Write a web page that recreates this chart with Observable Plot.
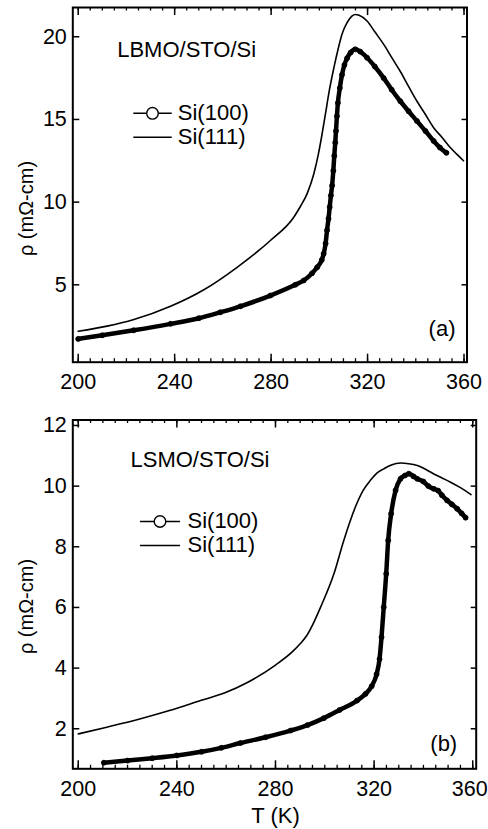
<!DOCTYPE html>
<html><head><meta charset="utf-8">
<script src="https://cdn.jsdelivr.net/npm/d3@7"></script>
<script src="https://cdn.jsdelivr.net/npm/@observablehq/plot@0.6"></script>
<style>
body{margin:0;background:#fff;}
#chart{position:relative;width:488px;height:829px;}
#chart svg{display:block;}
</style></head><body><div id="chart"></div>
<script>
// ---------- data ----------
const xMajor = [200, 240, 280, 320, 360];
const xMinor = d3.range(200, 361, 5);
const yTicksA = [5, 10, 15, 20];
const yTicksB = [2, 4, 6, 8, 10, 12];
const yLabel = "ρ (mΩ-cm)";
const xLabel = "T (K)";
const seriesNames = ["Si(100)", "Si(111)"];

// (a) LBMO/STO/Si
const aT100 = [200, 210, 223, 238.3, 250, 259, 267.3, 279.7, 290, 293.5, 297, 299.1, 301, 301.8, 302.6, 303.2, 303.8, 304.3, 304.8, 305.3, 305.8, 306.2, 306.6, 306.9, 307.3, 307.7, 308.5, 309.4, 310.4, 311.5, 313, 314.9, 317, 319.8, 323, 326.7, 330, 333.6, 337, 340.5, 344, 347.4, 350, 352.7];
const aR100 = [1.73, 1.95, 2.25, 2.64, 2.98, 3.34, 3.7, 4.35, 5.0, 5.26, 5.7, 6.06, 6.5, 6.88, 7.5, 8.3, 9.0, 9.7, 10.4, 11.0, 11.9, 12.8, 13.6, 14.3, 15.2, 16.0, 16.9, 17.7, 18.3, 18.7, 19.05, 19.24, 19.1, 18.73, 18.2, 17.5, 16.8, 16.1, 15.5, 14.9, 14.3, 13.7, 13.3, 12.98];
const aT111 = [200, 212, 223.1, 238.3, 252.1, 265.9, 279.7, 289.4, 292.2, 294.9, 297.7, 299.6, 301, 302.5, 304.2, 306, 307.7, 309.4, 311.5, 313.5, 314.9, 316.5, 319.8, 323, 326.7, 330, 333.6, 337, 340.5, 344, 347.4, 351, 354.3, 357, 359.8];
const aR111 = [2.19, 2.5, 2.9, 3.7, 4.7, 6.06, 7.68, 9.09, 9.75, 10.5, 11.7, 12.9, 14.0, 15.3, 16.8, 18.1, 19.2, 20.15, 20.85, 21.25, 21.35, 21.3, 20.95, 20.3, 19.54, 18.75, 17.9, 17.0, 16.1, 15.3, 14.5, 13.9, 13.3, 12.9, 12.5];

// (b) LSMO/STO/Si
const bT100 = [210.4, 220, 230, 240, 250, 258, 265.8, 276, 286.1, 293, 299.6, 306, 313.1, 316.5, 319, 321, 322.2, 323, 323.9, 324.9, 325.7, 326.9, 328.7, 330.7, 332.5, 334.1, 336, 337.5, 340, 342, 344.2, 346, 347.5, 349.6, 351.5, 353.7, 355.5, 357.1];
const bR100 = [0.88, 0.95, 1.03, 1.12, 1.24, 1.37, 1.53, 1.72, 1.94, 2.12, 2.35, 2.62, 2.93, 3.15, 3.4, 3.8, 4.3, 5.02, 6.01, 7.11, 8.21, 9.09, 9.86, 10.24, 10.35, 10.41, 10.32, 10.24, 10.15, 10.0, 9.91, 9.85, 9.7, 9.53, 9.4, 9.25, 9.1, 8.96];
const bT111 = [200, 212, 225.3, 237, 249.6, 260, 268, 280, 287, 290, 292.9, 295.5, 298.3, 303.7, 307.7, 312.4, 315.5, 318.5, 321, 323.9, 327, 330.7, 334, 337.5, 341, 344.2, 347.5, 351, 355, 359.3];
const bR111 = [1.83, 2.06, 2.33, 2.6, 2.93, 3.2, 3.5, 4.1, 4.55, 4.8, 5.1, 5.5, 6.01, 7.11, 8.21, 9.31, 9.85, 10.19, 10.42, 10.57, 10.7, 10.76, 10.74, 10.68, 10.55, 10.4, 10.27, 10.13, 9.95, 9.72];

const zip = (T, R) => T.map((t, i) => ({T: t, r: R[i]}));
const FONT = "'Liberation Sans', Arial, Helvetica, sans-serif";

function panel(c) {
  const W = 488;
  const fw = W - c.ml - c.mr, fh = c.height - c.mt - c.mb;
  const s100 = zip(c.T100, c.R100), s111 = zip(c.T111, c.R111);
  const txt = (s, o) => Plot.text([s], {lineAnchor: "middle", fontSize: 22, ...o});
  const marks = [
    Plot.ruleX(xMinor, {x: d => d, insetTop: fh - 3.5, strokeWidth: 1.3}),
    Plot.ruleX(xMinor, {x: d => d, insetBottom: fh - 3.5, strokeWidth: 1.3}),
    Plot.ruleX(xMajor, {x: d => d, insetTop: fh - 8, strokeWidth: 1.5}),
    Plot.ruleX(xMajor, {x: d => d, insetBottom: fh - 8, strokeWidth: 1.5}),
    Plot.ruleY(c.yTicks, {y: d => d, insetRight: fw - 7, strokeWidth: 1.5}),
    Plot.ruleY(c.yTicks, {y: d => d, insetLeft: fw - 5, strokeWidth: 1.5}),
    Plot.axisX(xMajor.slice(0, -1), {tickSize: 0, tickPadding: 11.5, label: null, fontSize: 21.5}),
    Plot.axisX(xMajor.slice(-1), {tickSize: 0, tickPadding: 11.5, label: null, fontSize: 21.5, dx: c.lastDx}),
    Plot.axisY(c.yTicks, {tickSize: 0, tickPadding: 6, label: null, fontSize: 21.5}),
    Plot.line(s111, {x: "T", y: "r", strokeWidth: 1.6, curve: "monotone-x"}),
    Plot.line(s100, {x: "T", y: "r", strokeWidth: 4.5, curve: "monotone-x"}),
    Plot.dot(s100, {x: "T", y: "r", r: 2.5, fill: "black", stroke: "black", strokeWidth: 0.8}),
    Plot.frame({strokeWidth: 2}),
    txt(c.title, {frameAnchor: "top-left", dx: c.titleX - c.ml, dy: c.titleY - c.mt, textAnchor: "start"}),
    txt(seriesNames[0], {frameAnchor: "top-left", dx: c.legTextX - c.ml, dy: c.legY1 - 1 - c.mt, textAnchor: "start"}),
    txt(seriesNames[1], {frameAnchor: "top-left", dx: c.legTextX - c.ml, dy: c.legY2 - 1 - c.mt, textAnchor: "start"}),
    txt(c.tag, {frameAnchor: "bottom-right", dx: c.tagDx, dy: c.tagDy, textAnchor: "end"}),
    txt(yLabel, {frameAnchor: "left", dx: 26 - c.ml, dy: c.ylabY - (c.mt + c.height - c.mb) / 2, rotate: -90, textAnchor: "middle", fontSize: 20})
  ];
  if (c.showXLabel) marks.push(txt(xLabel, {frameAnchor: "bottom", dx: c.xlabDx, dy: 47, textAnchor: "middle"}));
  const svg = Plot.plot({
    width: W, height: c.height,
    marginTop: c.mt, marginBottom: c.mb, marginLeft: c.ml, marginRight: c.mr,
    x: {domain: c.xDom}, y: {domain: c.yDom},
    style: `font-family: ${FONT}; font-size: 21px; color: black; background: white;`,
    marks
  });
  const root = d3.select(svg);
  // legend swatches
  const g = root.append("g").attr("stroke", "black");
  g.append("line").attr("x1", c.legX1).attr("x2", c.legX2).attr("y1", c.legY1).attr("y2", c.legY1).attr("stroke-width", 1.6);
  g.append("circle").attr("cx", (c.legX1 + c.legX2) / 2).attr("cy", c.legY1).attr("r", 5.8).attr("fill", "white").attr("stroke-width", 1.4);
  g.append("line").attr("x1", c.legX1).attr("x2", c.legX2).attr("y1", c.legY2).attr("y2", c.legY2).attr("stroke-width", 1.6);
  return svg;
}

const chart = document.getElementById("chart");
chart.append(panel({
  height: 400, mt: 7, mb: 38.3, ml: 72.3, mr: 21.5,
  xDom: [197.76, 361.24], yDom: [0.32, 21.77], yTicks: yTicksA,
  T100: aT100, R100: aR100, T111: aT111, R111: aR111,
  title: "LBMO/STO/Si", titleX: 116.7, titleY: 49.5,
  legX1: 133.3, legX2: 171.7, legTextX: 177.3, legY1: 113.3, legY2: 137.3,
  tag: "(a)", tagDx: -11.5, tagDy: -33, ylabY: 208, showXLabel: false, lastDx: 0
}));
chart.append(panel({
  height: 429, mt: 19.5, mb: 60.7, ml: 72.3, mr: 12.3,
  xDom: [197.8, 361.4], yDom: [0.68, 12.18], yTicks: yTicksB,
  T100: bT100, R100: bR100, T111: bT111, R111: bR111,
  title: "LSMO/STO/Si", titleX: 130, titleY: 59,
  legX1: 140, legX2: 180, legTextX: 187, legY1: 121.5, legY2: 145.5,
  tag: "(b)", tagDx: -19, tagDy: -25.3, ylabY: 206, showXLabel: true, xlabDx: 1, lastDx: -3
}));
</script></body></html>
